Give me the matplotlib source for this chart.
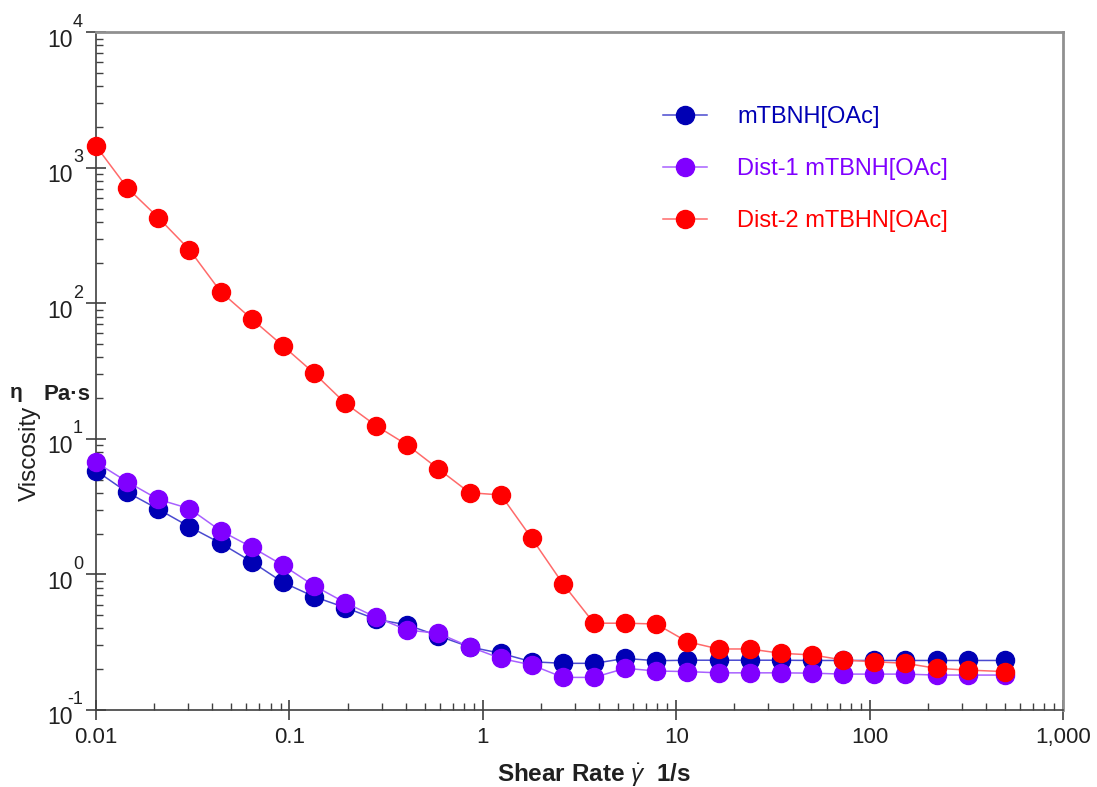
import numpy as np
import matplotlib
matplotlib.use('Agg')
import matplotlib.pyplot as plt
from matplotlib.ticker import FixedLocator, FixedFormatter, LogLocator, NullFormatter
from matplotlib.transforms import offset_copy

plt.rcParams['font.family'] = ['Liberation Sans', 'DejaVu Sans']
plt.rcParams['mathtext.fontset'] = 'custom'
plt.rcParams['mathtext.rm'] = 'Liberation Sans'
plt.rcParams['mathtext.it'] = 'Liberation Sans:italic'
plt.rcParams['mathtext.bf'] = 'Liberation Sans:bold'

# shear rate, 1/s (30 log-spaced points 0.01 .. 500)
shear_rate = [0.01, 0.0145, 0.021, 0.0304, 0.0441, 0.0639, 0.0925, 0.134, 0.194,
              0.281, 0.407, 0.59, 0.854, 1.24, 1.79, 2.6, 3.76, 5.45, 7.89,
              11.4, 16.6, 24.0, 34.8, 50.4, 72.9, 106.0, 153.0, 222.0, 321.0, 500.0]

visc_mtbnh = [5.83, 4.04, 3.03, 2.25, 1.70, 1.24, 0.875, 0.686, 0.570, 0.467,
              0.424, 0.352, 0.292, 0.262, 0.227, 0.221, 0.221, 0.240, 0.231, 0.233,
              0.233, 0.233, 0.233, 0.232, 0.232, 0.232, 0.232, 0.232, 0.232, 0.232]

visc_dist1 = [6.72, 4.83, 3.58, 3.06, 2.10, 1.59, 1.17, 0.826, 0.620, 0.483,
              0.389, 0.368, 0.293, 0.240, 0.215, 0.174, 0.174, 0.203, 0.194, 0.192,
              0.188, 0.188, 0.188, 0.187, 0.184, 0.184, 0.184, 0.181, 0.181, 0.181]

visc_dist2 = [1449, 713, 429, 249, 122, 76.7, 48.7, 30.6, 18.4, 12.5,
              9.02, 6.0, 4.01, 3.86, 1.85, 0.851, 0.437, 0.437, 0.431, 0.319,
              0.282, 0.282, 0.262, 0.255, 0.234, 0.227, 0.221, 0.203, 0.197, 0.192]

labels = ['mTBNH[OAc]', 'Dist-1 mTBNH[OAc]', 'Dist-2 mTBHN[OAc]']
marker_colors = ['#0000B4', '#8000FF', '#FF0000']
line_colors = ['#4A4AD0', '#A860FF', '#FF6A6A']

x_ticks = [0.01, 0.1, 1, 10, 100, 1000]
x_ticklabels = ['0.01', '0.1', '1', '10', '100', '1,000']
y_ticks = [0.1, 1, 10, 100, 1000, 10000]
y_exponents = ['-1', '0', '1', '2', '3', '4']

W, H = 1097, 787
fig = plt.figure(figsize=(W / 100, H / 100), dpi=100)
ax = fig.add_axes([96 / W, 1 - 710 / H, (1063 - 96) / W, (710 - 32.3) / H])

handles = []
for vals, lab, mc, lc in zip([visc_mtbnh, visc_dist1, visc_dist2], labels, marker_colors, line_colors):
    h, = ax.plot(shear_rate, vals, color=lc, lw=1.1, marker='o', ms=13,
                 mfc=mc, mec=mc, label=lab, clip_on=False, zorder=3)
    handles.append(h)

ax.set_xscale('log')
ax.set_yscale('log')
ax.set_xlim(0.01, 1000)
ax.set_ylim(0.1, 10000)

ax.xaxis.set_major_locator(FixedLocator(x_ticks))
ax.xaxis.set_major_formatter(FixedFormatter(x_ticklabels))
ax.yaxis.set_major_locator(FixedLocator(y_ticks))
ax.yaxis.set_major_formatter(NullFormatter())
ax.xaxis.set_minor_locator(LogLocator(base=10, subs=np.arange(2, 10), numticks=20))
ax.yaxis.set_minor_locator(LogLocator(base=10, subs=np.arange(2, 10), numticks=20))
ax.xaxis.set_minor_formatter(NullFormatter())
ax.yaxis.set_minor_formatter(NullFormatter())

ax.tick_params(which='major', direction='inout', length=14, width=1.2, color='#404040',
               labelsize=16, labelcolor='#202020')
ax.tick_params(which='minor', direction='in', length=5, width=1.0, color='#404040')
ax.tick_params(axis='x', which='major', pad=5)

# y tick labels as "10" with a raised exponent
ytrans = ax.get_yaxis_transform()
base_tr = offset_copy(ytrans, fig=fig, x=-23, y=-8, units='dots')
exp_tr = offset_copy(ytrans, fig=fig, x=-13, y=10, units='dots')
for yv, ex in zip(y_ticks, y_exponents):
    ax.text(0, yv, '10', transform=base_tr, ha='right', va='center',
            fontsize=16.5, color='#202020', clip_on=False)
    ax.text(0, yv, ex, transform=exp_tr, ha='right', va='center',
            fontsize=13, color='#202020', clip_on=False)

for s in ['left', 'bottom']:
    ax.spines[s].set_color('#404040')
    ax.spines[s].set_linewidth(1.2)
for s in ['top', 'right']:
    ax.spines[s].set_color('#909090')
    ax.spines[s].set_linewidth(2.0)

leg = ax.legend(handles=handles, loc='upper left', bbox_to_anchor=(0.586, 0.891),
                frameon=False, fontsize=17, handlelength=1.86, handletextpad=1.3,
                labelspacing=1.27, borderpad=0, borderaxespad=0)
for txt, c in zip(leg.get_texts(), marker_colors):
    txt.set_color(c)

# axis titles
fig.text(30 / W, 1 - 453 / H, 'Viscosity', rotation=90, ha='center', va='center',
         fontsize=17.5, color='#202020')
fig.text(16 / W, 1 - 392 / H, 'η', ha='center', va='center', fontsize=15,
         fontweight='bold', color='#202020')
fig.text(67 / W, 1 - 394 / H, 'Pa·s', ha='center', va='center', fontsize=16,
         fontweight='bold', color='#202020')
fig.text(594 / W, 1 - 775 / H, r'Shear Rate $\dot{\gamma}$  1/s', ha='center', va='center',
         fontsize=17.5, fontweight='bold', color='#202020')

fig.savefig('out.png', dpi=100)
